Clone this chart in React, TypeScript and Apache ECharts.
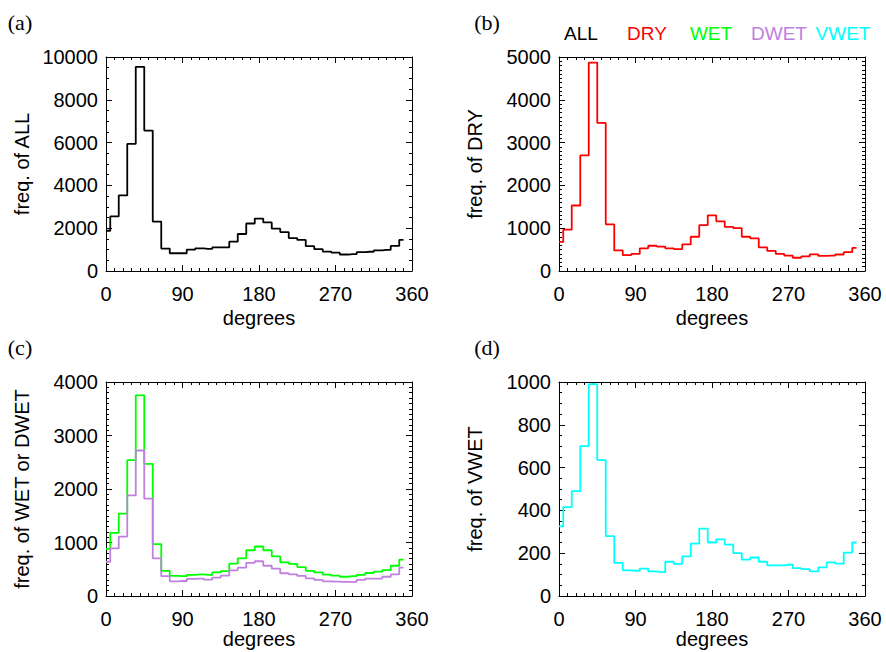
import React, { useEffect, useRef } from "react";
import * as echarts from "echarts";

const degrees = [0, 10, 20, 30, 40, 50, 60, 70, 80, 90, 100, 110, 120, 130, 140, 150, 160, 170, 180, 190, 200, 210, 220, 230, 240, 250, 260, 270, 280, 290, 300, 310, 320, 330, 340, 350];

const allFreq = [1880, 2550, 3530, 5940, 9540, 6560, 2310, 1050, 830, 830, 1000, 1060, 1030, 1100, 1100, 1370, 1730, 2220, 2450, 2270, 1980, 1820, 1540, 1450, 1160, 1020, 910, 860, 770, 790, 880, 900, 960, 990, 1170, 1450];
const dryFreq = [680, 965, 1530, 2700, 4870, 3460, 1090, 480, 370, 400, 530, 590, 570, 530, 510, 620, 800, 1070, 1300, 1160, 1030, 1000, 800, 760, 550, 470, 400, 360, 310, 340, 390, 355, 360, 385, 440, 540];
const wetFreq = [880, 1180, 1540, 2540, 3750, 2470, 970, 470, 375, 370, 395, 405, 395, 440, 465, 605, 705, 855, 925, 855, 740, 630, 600, 540, 470, 440, 400, 380, 360, 370, 395, 430, 455, 485, 565, 680];
const dwetFreq = [640, 890, 1110, 1880, 2720, 1820, 705, 370, 275, 280, 320, 325, 305, 345, 380, 480, 530, 620, 650, 565, 510, 425, 405, 375, 330, 300, 275, 270, 265, 265, 300, 325, 325, 360, 405, 530];
const vwetFreq = [325, 415, 490, 700, 990, 635, 280, 155, 120, 118, 128, 115, 112, 160, 150, 185, 245, 315, 250, 265, 240, 200, 170, 180, 160, 143, 143, 146, 130, 126, 115, 134, 157, 151, 203, 250];

const legendNames = ["ALL", "DRY", "WET", "DWET", "VWET"];
const COLORS: Record<string, string> = {
  ALL: "#000000",
  DRY: "#ff0000",
  WET: "#00ff00",
  DWET: "#c080e0",
  VWET: "#00ffff",
};

const SANS = "'Liberation Sans', Arial, Helvetica, sans-serif";
const SERIF = "'Liberation Serif', 'Times New Roman', serif";
const FS = 20;

type Panel = {
  left: number;
  top: number;
  yMax: number;
  yInterval: number;
  ySplit: number;
  title: string;
  letter: string;
  series: { name: string; values: number[] }[];
};

const W = 306;
const H = 214;

const panels: Panel[] = [
  { left: 106, top: 57, yMax: 10000, yInterval: 2000, ySplit: 4, title: "freq. of ALL", letter: "(a)", series: [{ name: "ALL", values: allFreq }] },
  { left: 559, top: 57, yMax: 5000, yInterval: 1000, ySplit: 10, title: "freq. of DRY", letter: "(b)", series: [{ name: "DRY", values: dryFreq }] },
  { left: 106, top: 382, yMax: 4000, yInterval: 1000, ySplit: 10, title: "freq. of WET or DWET", letter: "(c)", series: [{ name: "WET", values: wetFreq }, { name: "DWET", values: dwetFreq }] },
  { left: 559, top: 382, yMax: 1000, yInterval: 200, ySplit: 4, title: "freq. of VWET", letter: "(d)", series: [{ name: "VWET", values: vwetFreq }] },
];

const legendX = [581, 647, 711, 779, 843];

function pairs(vals: number[]) {
  return degrees.map((d, i) => [d, vals[i]]);
}

export default function App() {
  const ref = useRef<HTMLDivElement>(null);
  useEffect(() => {
    if (!ref.current) return;
    const chart = echarts.init(ref.current, undefined, { renderer: "svg" });
    const tickStyle = { color: "#000", width: 1 };
    const plain = (v: number) => String(v);
    const grid: any[] = [];
    const xAxis: any[] = [];
    const yAxis: any[] = [];
    const series: any[] = [];
    const graphic: any[] = [];

    panels.forEach((p, i) => {
      grid.push({ left: p.left, top: p.top, width: W, height: H, containLabel: false });
      const xBase = {
        type: "value",
        gridIndex: i,
        min: 0,
        max: 360,
        interval: 90,
        axisLine: { show: true, onZero: false, lineStyle: tickStyle },
        axisTick: { show: true, inside: true, length: 6, lineStyle: tickStyle },
        minorTick: { show: true, splitNumber: 9, length: 3, lineStyle: tickStyle },
        splitLine: { show: false },
        minorSplitLine: { show: false },
      };
      xAxis.push({
        ...xBase,
        position: "bottom",
        axisLabel: { show: true, margin: 13, color: "#000", fontFamily: SANS, fontSize: FS, showMinLabel: true, showMaxLabel: true, formatter: plain },
      });
      xAxis.push({ ...xBase, position: "top", axisLabel: { show: false } });
      const yBase = {
        type: "value",
        gridIndex: i,
        min: 0,
        max: p.yMax,
        interval: p.yInterval,
        axisLine: { show: true, onZero: false, lineStyle: tickStyle },
        axisTick: { show: true, inside: true, length: 6, lineStyle: tickStyle },
        minorTick: { show: true, splitNumber: p.ySplit, length: 3, lineStyle: tickStyle },
        splitLine: { show: false },
        minorSplitLine: { show: false },
      };
      yAxis.push({
        ...yBase,
        position: "left",
        axisLabel: { show: true, margin: 8, color: "#000", fontFamily: SANS, fontSize: FS, showMinLabel: true, showMaxLabel: true, formatter: plain },
      });
      yAxis.push({ ...yBase, position: "right", axisLabel: { show: false } });

      p.series.forEach((s) => {
        series.push({
          type: "line",
          name: s.name,
          xAxisIndex: i * 2,
          yAxisIndex: i * 2,
          step: "middle",
          showSymbol: false,
          symbol: "none",
          data: pairs(s.values),
          lineStyle: { color: COLORS[s.name], width: 1.8 },
          itemStyle: { color: COLORS[s.name] },
          silent: true,
        });
      });

      const letterX = p.left < 300 ? 20 : 487;
      graphic.push({
        type: "text",
        x: letterX,
        y: p.top - 35,
        style: { text: p.letter, fontFamily: SERIF, fontSize: 22, fill: "#000", textAlign: "center", textVerticalAlign: "middle" },
      });
      graphic.push({
        type: "text",
        x: p.left - 84,
        y: p.top + H / 2,
        rotation: Math.PI / 2,
        style: { text: p.title, fontFamily: SANS, fontSize: FS, fill: "#000", textAlign: "center", textVerticalAlign: "middle" },
      });
      graphic.push({
        type: "text",
        x: p.left + W / 2,
        y: Math.min(p.top + H + 47, 639),
        style: { text: "degrees", fontFamily: SANS, fontSize: FS, fill: "#000", textAlign: "center", textVerticalAlign: "middle" },
      });
    });

    legendNames.forEach((n, i) => {
      graphic.push({
        type: "text",
        x: legendX[i],
        y: 33,
        style: { text: n, fontFamily: SANS, fontSize: FS - 1, fill: COLORS[n], textAlign: "center", textVerticalAlign: "middle" },
      });
    });

    chart.setOption({
      animation: false,
      backgroundColor: "#ffffff",
      grid,
      xAxis,
      yAxis,
      series,
      graphic,
    });
    return () => chart.dispose();
  }, []);
  return <div ref={ref} style={{ position: "absolute", left: 0, top: 0, width: 886, height: 652 }} />;
}
